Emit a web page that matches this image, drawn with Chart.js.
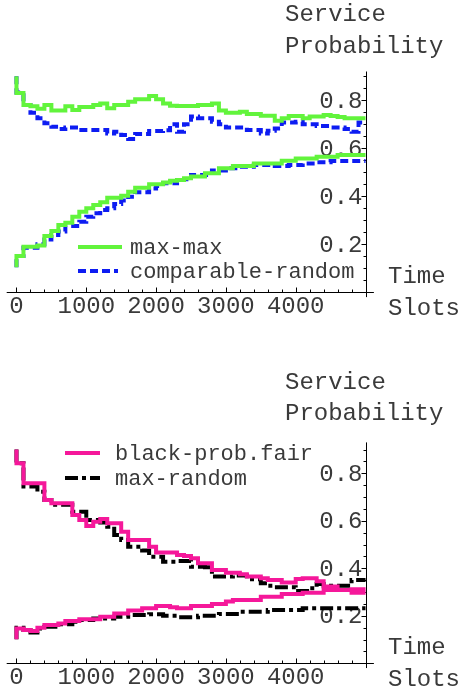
<!DOCTYPE html>
<html>
<head>
<meta charset="utf-8">
<script src="https://cdn.jsdelivr.net/npm/chart.js@4.4.0/dist/chart.umd.min.js"></script>
<style>
  html, body { margin: 0; padding: 0; background: #fff; }
  #wrap { position: relative; width: 461px; height: 691px; overflow: hidden; }
  canvas { position: absolute; left: 0; }
  #topChart { top: 0; }
  #bottomChart { top: 345px; }
</style>
</head>
<body>
<div id="wrap">
  <canvas id="topChart" width="461" height="345"></canvas>
  <canvas id="bottomChart" width="461" height="346"></canvas>
</div>
<script>
// time slots, one step every 100 slots (last point closes the step at 5000)
const slots = [0, 100, 200, 300, 400, 500, 600, 700, 800, 900,
  1000, 1100, 1200, 1300, 1400, 1500, 1600, 1700, 1800, 1900,
  2000, 2100, 2200, 2300, 2400, 2500, 2600, 2700, 2800, 2900,
  3000, 3100, 3200, 3300, 3400, 3500, 3600, 3700, 3800, 3900,
  4000, 4100, 4200, 4300, 4400, 4500, 4600, 4700, 4800, 4900, 5000];

const xTickLabels = [0, 1000, 2000, 3000, 4000];
const yTickLabels = [0.2, 0.4, 0.6, 0.8];

// top panel
const maxMaxUpper = [0.90, 0.83, 0.78, 0.775, 0.765, 0.78, 0.757, 0.757, 0.775, 0.76,
  0.772, 0.772, 0.78, 0.787, 0.767, 0.78, 0.78, 0.794, 0.804, 0.804,
  0.818, 0.804, 0.787, 0.777, 0.776, 0.776, 0.776, 0.78, 0.78, 0.787,
  0.757, 0.748, 0.748, 0.752, 0.743, 0.743, 0.736, 0.736, 0.715, 0.725,
  0.735, 0.735, 0.725, 0.732, 0.732, 0.739, 0.735, 0.73, 0.725, 0.725, 0.725];
const maxMaxLower = [0.104, 0.151, 0.19, 0.19, 0.195, 0.235, 0.255, 0.28, 0.29, 0.315,
  0.336, 0.35, 0.364, 0.375, 0.394, 0.394, 0.402, 0.419, 0.436, 0.436,
  0.45, 0.45, 0.458, 0.465, 0.468, 0.475, 0.482, 0.482, 0.496, 0.496,
  0.517, 0.517, 0.526, 0.526, 0.526, 0.537, 0.537, 0.537, 0.537, 0.548,
  0.548, 0.558, 0.558, 0.558, 0.565, 0.565, 0.565, 0.572, 0.572, 0.572, 0.572];
const compRandUpper = [0.90, 0.832, 0.78, 0.748, 0.725, 0.704, 0.69, 0.68, 0.687, 0.687,
  0.676, 0.676, 0.676, 0.676, 0.662, 0.669, 0.655, 0.639, 0.66, 0.66,
  0.672, 0.672, 0.675, 0.70, 0.669, 0.70, 0.732, 0.725, 0.725, 0.711,
  0.70, 0.687, 0.687, 0.687, 0.676, 0.676, 0.662, 0.673, 0.683, 0.708,
  0.708, 0.711, 0.70, 0.70, 0.693, 0.693, 0.687, 0.687, 0.68, 0.669, 0.707];
const compRandLower = [0.104, 0.151, 0.186, 0.186, 0.2, 0.22, 0.239, 0.253, 0.276, 0.276,
  0.294, 0.315, 0.329, 0.343, 0.35, 0.368, 0.382, 0.398, 0.417, 0.417,
  0.433, 0.443, 0.454, 0.454, 0.468, 0.471, 0.489, 0.489, 0.489, 0.507,
  0.507, 0.517, 0.517, 0.523, 0.523, 0.53, 0.53, 0.53, 0.526, 0.526,
  0.53, 0.53, 0.537, 0.537, 0.542, 0.542, 0.547, 0.547, 0.547, 0.547, 0.547];

// bottom panel
const fairUpper = [0.90, 0.842, 0.758, 0.758, 0.758, 0.688, 0.674, 0.674, 0.674, 0.624,
  0.603, 0.578, 0.596, 0.607, 0.59, 0.59, 0.554, 0.519, 0.519, 0.519,
  0.491, 0.466, 0.466, 0.466, 0.456, 0.452, 0.442, 0.421, 0.421, 0.393,
  0.393, 0.381, 0.381, 0.375, 0.365, 0.365, 0.358, 0.351, 0.351, 0.34,
  0.34, 0.355, 0.358, 0.358, 0.345, 0.323, 0.323, 0.309, 0.309, 0.297, 0.297];
const fairLower = [0.101, 0.147, 0.14, 0.136, 0.15, 0.161, 0.161, 0.168, 0.178, 0.178,
  0.185, 0.185, 0.185, 0.196, 0.196, 0.21, 0.21, 0.222, 0.222, 0.232,
  0.232, 0.241, 0.241, 0.236, 0.232, 0.232, 0.241, 0.241, 0.241, 0.25,
  0.25, 0.26, 0.267, 0.267, 0.267, 0.267, 0.28, 0.28, 0.28, 0.292,
  0.292, 0.292, 0.297, 0.297, 0.297, 0.309, 0.309, 0.309, 0.309, 0.312, 0.312];
const maxRandUpper = [0.90, 0.842, 0.744, 0.744, 0.722, 0.688, 0.667, 0.667, 0.667, 0.638,
  0.638, 0.603, 0.603, 0.593, 0.575, 0.54, 0.519, 0.491, 0.491, 0.475,
  0.449, 0.449, 0.428, 0.428, 0.431, 0.431, 0.407, 0.407, 0.404, 0.365,
  0.365, 0.365, 0.37, 0.37, 0.354, 0.354, 0.337, 0.326, 0.32, 0.32,
  0.32, 0.304, 0.304, 0.316, 0.334, 0.326, 0.326, 0.326, 0.326, 0.351, 0.351];
const maxRandLower = [0.101, 0.15, 0.14, 0.13, 0.147, 0.154, 0.154, 0.164, 0.164, 0.175,
  0.182, 0.182, 0.189, 0.189, 0.189, 0.196, 0.196, 0.203, 0.203, 0.203,
  0.206, 0.206, 0.2, 0.2, 0.194, 0.194, 0.194, 0.2, 0.2, 0.2,
  0.208, 0.208, 0.208, 0.217, 0.217, 0.217, 0.217, 0.224, 0.224, 0.224,
  0.224, 0.224, 0.232, 0.232, 0.232, 0.232, 0.232, 0.232, 0.232, 0.232, 0.232];

const FONT = '"Liberation Mono", "Courier New", monospace';
const TEXT = '#3a3a3a';

const styles = {
  maxMax:   { label: 'max-max', color: '#62f43c', dash: [] },
  compRand: { label: 'comparable-random', color: '#0d1cf2', dash: [8, 4] },
  fair:     { label: 'black-prob.fair', color: '#f5189a', dash: [] },
  maxRand:  { label: 'max-random', color: '#000000', dash: [13, 4, 4, 4] }
};

function series(values, st) {
  return {
    label: st.label,
    data: slots.map((t, i) => ({ x: t, y: values[i] })),
    borderColor: st.color,
    borderWidth: 4,
    borderDash: st.dash,
    borderCapStyle: 'butt',
    stepped: 'after',
    pointRadius: 0,
    fill: false
  };
}

// Mathematica-like axes: y axis sits at x = 5000, x axis at y = 0
const axesPlugin = {
  id: 'mmaAxes',
  beforeDatasetsDraw(chart) {
    const ctx = chart.ctx, xs = chart.scales.x, ys = chart.scales.y, a = chart.chartArea;
    const ax = Math.round(xs.getPixelForValue(5000)) + 0.5;
    const ay = Math.round(ys.getPixelForValue(0)) + 0.5;
    ctx.save();
    ctx.strokeStyle = '#000';
    ctx.lineWidth = 1;
    ctx.beginPath();
    ctx.moveTo(a.left, ay); ctx.lineTo(a.right, ay);
    ctx.moveTo(ax, a.top); ctx.lineTo(ax, a.bottom);
    for (let t = 0; t <= 5000; t += 200) {
      const px = Math.round(xs.getPixelForValue(t)) + 0.5;
      const len = t % 1000 === 0 ? 5 : 3;
      ctx.moveTo(px, ay); ctx.lineTo(px, ay - len);
    }
    for (let k = 1; k <= 18; k++) {
      const py = Math.round(ys.getPixelForValue(k * 0.05)) + 0.5;
      const len = k % 4 === 0 ? 5 : 3;
      ctx.moveTo(ax, py); ctx.lineTo(ax - len, py);
    }
    ctx.stroke();

    ctx.fillStyle = TEXT;
    ctx.font = '24px ' + FONT;
    ctx.textBaseline = 'middle';
    ctx.textAlign = 'center';
    xTickLabels.forEach(v => ctx.fillText(String(v), xs.getPixelForValue(v), ay + 14));
    ctx.textAlign = 'right';
    yTickLabels.forEach(v => ctx.fillText(v.toFixed(1), ax - 4, ys.getPixelForValue(v) + 1));
    ctx.restore();
  },
  afterDraw(chart) {
    const o = chart.options.plugins.mmaAxes;
    const ctx = chart.ctx, ys = chart.scales.y;
    const ay = ys.getPixelForValue(0);
    ctx.save();
    ctx.fillStyle = TEXT;
    ctx.textBaseline = 'middle';
    ctx.textAlign = 'left';
    ctx.font = '24px ' + FONT;
    ctx.fillText('Service', 285, o.titleY[0]);
    ctx.fillText('Probability', 285, o.titleY[1]);
    ctx.fillText('Time', 388, ay - 16);
    ctx.fillText('Slots', 388, ay + 16);

    // legend
    ctx.font = '22px ' + FONT;
    o.legend.forEach(item => {
      const ds = chart.data.datasets[item.ds];
      ctx.strokeStyle = ds.borderColor;
      ctx.lineWidth = ds.borderWidth;
      ctx.setLineDash(ds.borderDash);
      ctx.beginPath();
      ctx.moveTo(item.x0, item.y); ctx.lineTo(item.x1, item.y);
      ctx.stroke();
      ctx.setLineDash([]);
      ctx.fillText(ds.label, item.tx, item.y + 1);
    });
    ctx.restore();
  }
};

function makeChart(id, datasets, yMax, padding, opts) {
  return new Chart(document.getElementById(id), {
    type: 'line',
    data: { datasets },
    options: {
      responsive: false,
      animation: false,
      devicePixelRatio: 1,
      layout: { padding },
      scales: {
        x: { type: 'linear', min: -140, max: 5120, display: false },
        y: { type: 'linear', min: -0.02, max: yMax, display: false }
      },
      plugins: {
        legend: { display: false },
        tooltip: { enabled: false },
        mmaAxes: opts
      }
    },
    plugins: [axesPlugin]
  });
}

makeChart('topChart', [
  series(maxMaxUpper, styles.maxMax),
  series(maxMaxLower, styles.maxMax),
  series(compRandUpper, styles.compRand),
  series(compRandLower, styles.compRand)
], 0.92, { left: 6.7, right: 87.1, top: 71.5, bottom: 47.9 }, {
  titleY: [15, 47],
  legend: [
    { ds: 0, x0: 78, x1: 122, tx: 130, y: 247 },
    { ds: 2, x0: 78, x1: 118, tx: 130, y: 271 }
  ]
});

makeChart('bottomChart', [
  series(fairUpper, styles.fair),
  series(fairLower, styles.fair),
  series(maxRandUpper, styles.maxRand),
  series(maxRandLower, styles.maxRand)
], 0.93, { left: 6.7, right: 87.1, top: 97.4, bottom: 22.95 }, {
  titleY: [38, 69],
  legend: [
    { ds: 0, x0: 65, x1: 100, tx: 115, y: 108 },
    { ds: 2, x0: 65, x1: 100, tx: 115, y: 133 }
  ]
});
</script>
</body>
</html>
